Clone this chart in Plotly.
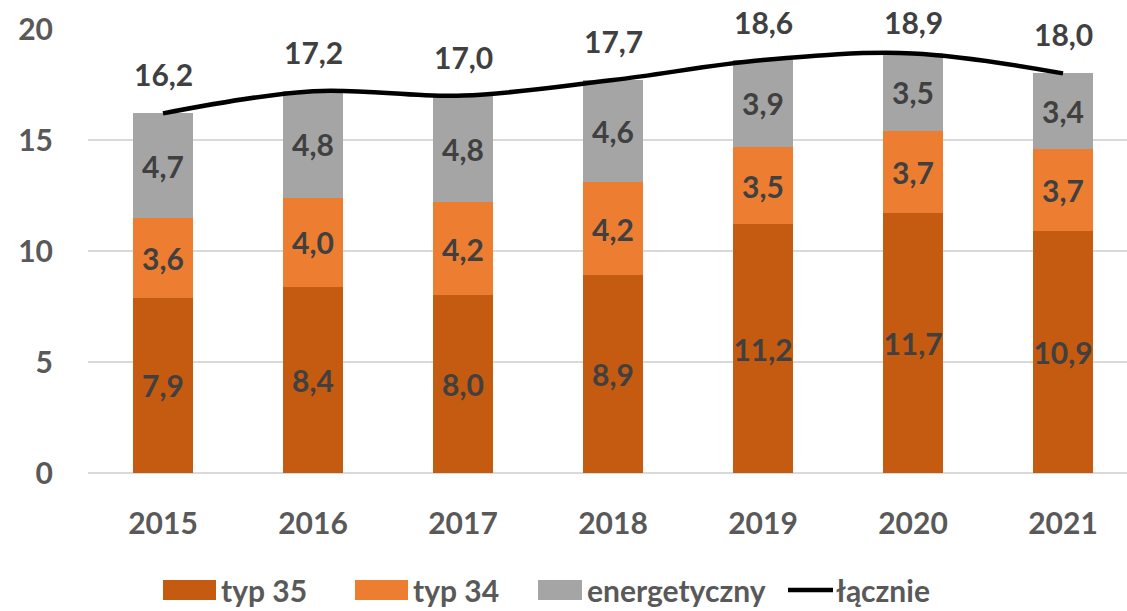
import plotly.graph_objects as go

years = ["2015", "2016", "2017", "2018", "2019", "2020", "2021"]
typ35 = [7.9, 8.4, 8.0, 8.9, 11.2, 11.7, 10.9]
typ34 = [3.6, 4.0, 4.2, 4.2, 3.5, 3.7, 3.7]
energetyczny = [4.7, 4.8, 4.8, 4.6, 3.9, 3.5, 3.4]
lacznie = [16.2, 17.2, 17.0, 17.7, 18.6, 18.9, 18.0]
y_ticks = [0, 5, 10, 15, 20]

C35 = "#C55A11"
C34 = "#ED7D31"
CEN = "#A5A5A5"
LABEL = "#404040"
AXIS = "#595959"
FONT = "Lato"
FS = 30

W, H = 1127, 611
ML, MR, MT, MB = 88, 0, 29, 138
PW, PH = W - ML - MR, H - MT - MB
SLOT = 150  # pixels per category
Y_MAX = 20


def px_x(p):
    return (p - ML) / PW


def px_y(p):
    return (H - MB - p) / PH


fig = go.Figure()

for name, vals, col in [("typ 35", typ35, C35), ("typ 34", typ34, C34),
                        ("energetyczny", energetyczny, CEN)]:
    fig.add_trace(go.Bar(
        x=years, y=vals, name=name, marker=dict(color=col, line=dict(width=0)),
        width=0.4, texttemplate="%{y:.1f}", textposition="inside", textangle=0,
        insidetextanchor="middle", constraintext="none",
        insidetextfont=dict(family=FONT, size=FS, color=LABEL, weight="bold"),
        hoverinfo="skip", showlegend=False,
    ))

fig.add_trace(go.Scatter(
    x=years, y=lacznie, mode="lines", name="łącznie",
    line=dict(color="black", width=4.5, shape="spline", smoothing=1),
    showlegend=False, hoverinfo="skip",
))

# Total labels sit above the line, but are kept from running off the top edge
for i, v in enumerate(lacznie):
    point_px = MT + (Y_MAX - v) * PH / Y_MAX
    label_px = max(22, point_px - 39)
    fig.add_annotation(
        x=i, y=v, text=f"{v:.1f}".replace(".", ","), showarrow=False,
        yshift=point_px - label_px,
        font=dict(family=FONT, size=FS, color=LABEL, weight="bold"),
    )

# Legend drawn as swatches and labels beneath the plot
legend_y = 590
swatches = [(163, 216, C35, "typ 35"), (355, 408, C34, "typ 34"),
            (538, 582, CEN, "energetyczny")]
for x0, x1, col, label in swatches:
    fig.add_shape(type="rect", xref="paper", yref="paper",
                  x0=px_x(x0), x1=px_x(x1),
                  y0=px_y(legend_y + 10), y1=px_y(legend_y - 10),
                  fillcolor=col, line=dict(width=0))
    fig.add_annotation(xref="paper", yref="paper", x=px_x(x1 + 3), y=px_y(legend_y),
                       xanchor="left", yanchor="middle", text=label, showarrow=False,
                       font=dict(family=FONT, size=FS, color=AXIS, weight="bold"))
fig.add_shape(type="line", xref="paper", yref="paper",
              x0=px_x(788), x1=px_x(833), y0=px_y(legend_y), y1=px_y(legend_y),
              line=dict(color="black", width=4.5))
fig.add_annotation(xref="paper", yref="paper", x=px_x(834), y=px_y(legend_y),
                   xanchor="left", yanchor="middle", text="łącznie", showarrow=False,
                   font=dict(family=FONT, size=FS, color=AXIS, weight="bold"))

fig.update_layout(
    width=W, height=H, barmode="stack", separators=", ",
    margin=dict(l=ML, r=MR, t=MT, b=MB),
    plot_bgcolor="white", paper_bgcolor="white",
    font=dict(family=FONT, size=FS, color=AXIS, weight="bold"),
    uniformtext=dict(minsize=FS, mode="show"),
    showlegend=False,
    xaxis=dict(type="category", range=[-0.5, -0.5 + PW / SLOT], showgrid=False,
               showline=False, ticks="",
               tickfont=dict(family=FONT, size=FS, color=AXIS, weight="bold"),
               ticklabelstandoff=30),
    yaxis=dict(range=[0, Y_MAX], tickvals=y_ticks, showgrid=True, gridcolor="#D9D9D9",
               gridwidth=1.5, zeroline=True, zerolinecolor="#D9D9D9", zerolinewidth=1.5,
               showline=False, ticks="", ticklabelstandoff=34,
               tickfont=dict(family=FONT, size=FS, color=AXIS, weight="bold")),
)

fig.write_html("out.html")
